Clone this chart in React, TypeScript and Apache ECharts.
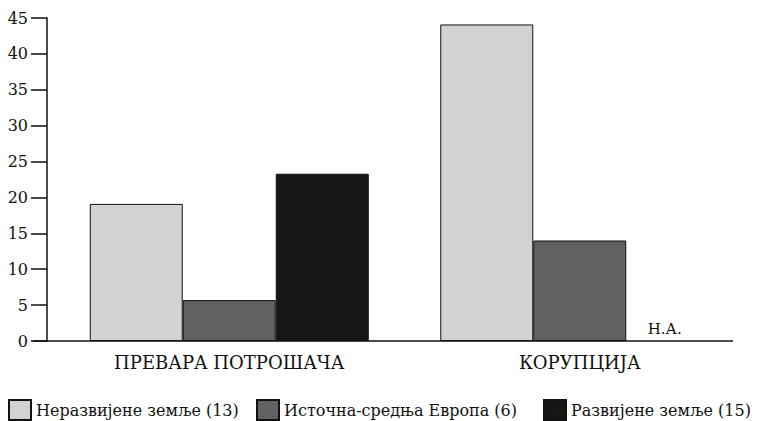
import React, { useEffect, useRef } from "react";
import * as echarts from "echarts";

const categories = ["ПРЕВАРА ПОТРОШАЧА", "КОРУПЦИЈА"];
const seriesNames = ["Неразвијене земље (13)", "Источна-средња Европа (6)", "Развијене земље (15)"];
const undeveloped = [19.1, 44.1];
const eastCentral = [5.7, 14.0];
const developed: (number | null)[] = [23.3, 0];
const naLabel = "Н.А.";
const yTicks = { min: 0, max: 45, interval: 5 };

const FONT = "DejaVu Serif";
const legendLefts = [8, 256, 543];

export default function App() {
  const ref = useRef<HTMLDivElement>(null);
  useEffect(() => {
    const chart = echarts.init(ref.current!, null, { renderer: "svg" });
    const devData = developed.map((v, i) =>
      i === 1
        ? {
            value: v,
            itemStyle: { borderWidth: 0 },
            label: {
              show: true,
              position: "top",
              formatter: naLabel,
              color: "#111",
              fontFamily: FONT,
              fontSize: 15,
              offset: [-8, 0],
            },
          }
        : v
    );
    const colors = ["#d2d2d2", "#616161", "#161616"];
    const datas = [undeveloped, eastCentral, devData];
    chart.setOption({
      animation: false,
      backgroundColor: "#fff",
      textStyle: { fontFamily: FONT, color: "#111" },
      grid: { left: 54, right: 4, top: 18, bottom: 80 },
      legend: seriesNames.map((name, i) => ({
        left: legendLefts[i],
        top: 399,
        padding: 0,
        icon: "rect",
        itemWidth: 22,
        itemHeight: 20,
        textStyle: { fontFamily: FONT, fontSize: 16, color: "#111" },
        data: [name],
      })),
      xAxis: {
        type: "category",
        data: categories,
        axisLine: { show: false },
        axisTick: { show: false },
        axisLabel: { fontFamily: FONT, fontSize: 18, color: "#111", margin: 12 },
      },
      yAxis: {
        type: "value",
        min: yTicks.min,
        max: yTicks.max,
        interval: yTicks.interval,
        offset: 7,
        splitLine: { show: false },
        axisLine: { show: true, lineStyle: { color: "#111", width: 1.5 } },
        axisTick: { show: true, length: 16, lineStyle: { color: "#111", width: 1.5 } },
        axisLabel: { fontFamily: FONT, fontSize: 16, color: "#111", margin: 19 },
      },
      graphic: [
        {
          type: "line",
          shape: { x1: 33, y1: 341, x2: 733, y2: 341 },
          style: { stroke: "#111", lineWidth: 1.5 },
        },
      ],
      series: seriesNames.map((name, i) => ({
        name,
        type: "bar",
        data: datas[i],
        barWidth: 93,
        barGap: "0%",
        itemStyle: { color: colors[i], borderColor: "#111", borderWidth: 1 },
      })),
    });
    return () => chart.dispose();
  }, []);
  return <div ref={ref} style={{ width: 759, height: 421, position: "absolute", left: 0, top: 0 }} />;
}
